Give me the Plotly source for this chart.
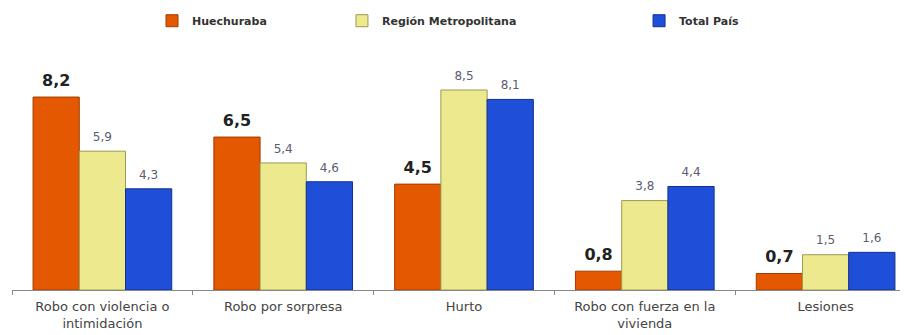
import plotly.graph_objects as go

categories = [
    "Robo con violencia o<br>intimidación",
    "Robo por sorpresa",
    "Hurto",
    "Robo con fuerza en la<br>vivienda",
    "Lesiones",
]
huechuraba = [8.2, 6.5, 4.5, 0.8, 0.7]
region_metropolitana = [5.9, 5.4, 8.5, 3.8, 1.5]
total_pais = [4.3, 4.6, 8.1, 4.4, 1.6]

series = [
    ("Huechuraba", huechuraba, "#E35800", "#A33C00",
     dict(size=16, color="#222222", family="DejaVu Sans", weight="bold"), "legend", 0.1586),
    ("Región Metropolitana", region_metropolitana, "#EDE98E", "#9C9A52",
     dict(size=12, color="#5C5C70", family="DejaVu Sans"), "legend2", 0.3678),
    ("Total País", total_pais, "#1F4FD8", "#12308A",
     dict(size=12, color="#5C5C70", family="DejaVu Sans"), "legend3", 0.695),
]


def fmt(v):
    return f"{v:.1f}".replace(".", ",")


fig = go.Figure()
legend_layouts = {}
for i, (name, vals, colour, edge, tfont, leg, lx) in enumerate(series):
    fig.add_trace(
        go.Bar(
            x=categories,
            y=vals,
            name=name,
            marker=dict(color=colour, line=dict(color=edge, width=1)),
            offsetgroup=str(i),
            legend=leg,
        )
    )
    # value labels, grouped like the bars, lifted a little above each bar
    fig.add_trace(
        go.Scatter(
            x=categories,
            y=vals,
            mode="markers+text",
            text=[fmt(v) for v in vals],
            textposition="top center",
            textfont=tfont,
            marker=dict(size=10, opacity=0),
            offsetgroup=str(i),
            showlegend=False,
            hoverinfo="skip",
            cliponaxis=False,
        )
    )
    legend_layouts[leg] = dict(
        x=lx,
        y=0.962,
        xref="container",
        yref="container",
        xanchor="left",
        yanchor="middle",
        orientation="h",
        font=dict(size=11, color="#333333", family="DejaVu Sans", weight="bold"),
        bgcolor="rgba(0,0,0,0)",
    )

# the page body adds an 8px offset, so margins are trimmed to compensate
fig.update_layout(
    width=908,
    height=335,
    margin=dict(l=4, r=0, t=42, b=53, autoexpand=False),
    plot_bgcolor="white",
    paper_bgcolor="white",
    barmode="group",
    scattermode="group",
    bargap=0.233,
    bargroupgap=0,
    scattergap=0.233,
    showlegend=True,
    **legend_layouts,
)
fig.update_xaxes(
    automargin=False,
    showline=True,
    linecolor="#888888",
    linewidth=1,
    ticks="outside",
    tickson="boundaries",
    ticklen=4,
    tickcolor="#888888",
    ticklabelstandoff=4,
    tickfont=dict(size=13, color="#444444", family="DejaVu Sans"),
    showgrid=False,
)
fig.update_yaxes(range=[0, 10.2], visible=False, showgrid=False)

fig.write_html("out.html")
